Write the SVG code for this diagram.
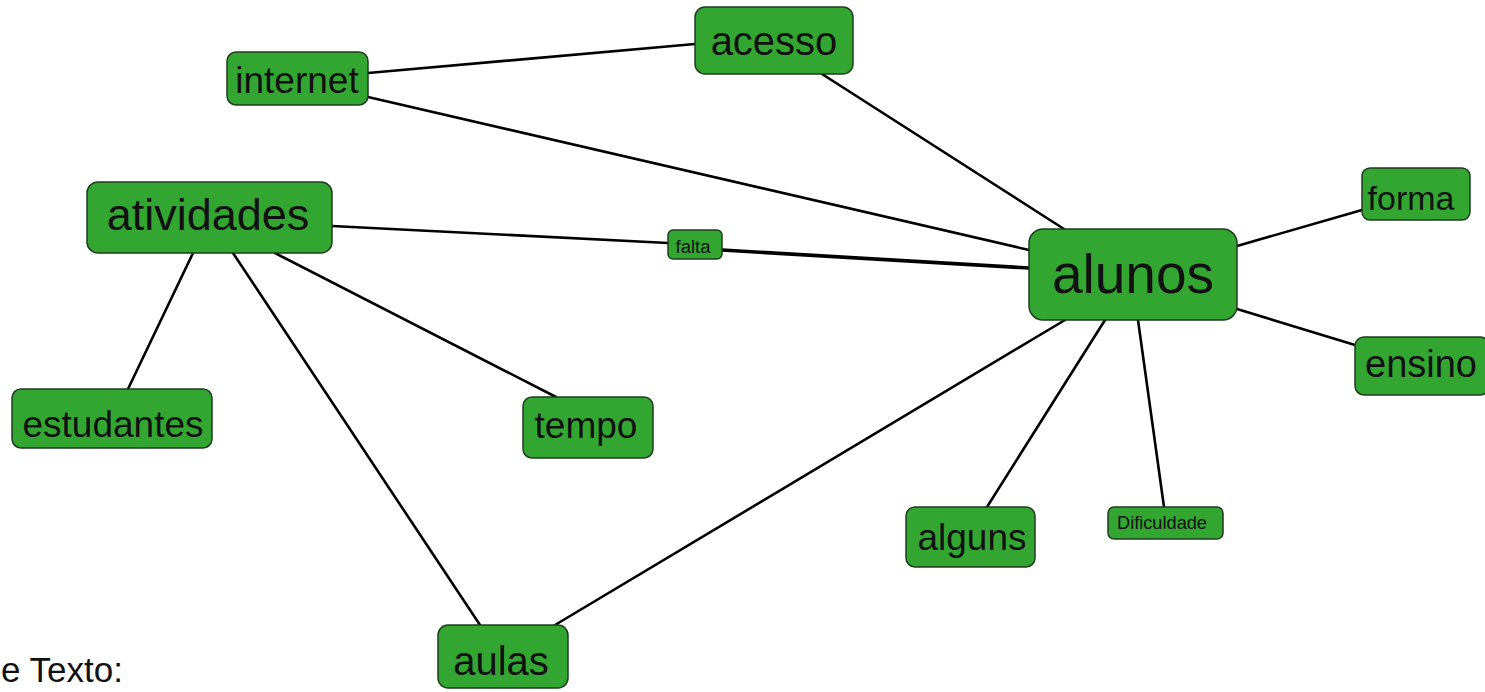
<svg xmlns="http://www.w3.org/2000/svg" width="1485" height="692" viewBox="0 0 1485 692">
<style>
.n rect{fill:#33a632;stroke:#1f3d1f;stroke-width:1.5}
.n text{font-family:"Liberation Sans",Arial,sans-serif;fill:#111;text-anchor:middle}
.e line{stroke:#000;stroke-width:2.6;stroke-linecap:round}
</style>
<rect width="1485" height="692" fill="#fff"/>
<g id="connectors" class="e">
<line x1="368" y1="73" x2="695" y2="44"/>
<line x1="368" y1="97" x2="1029" y2="250"/>
<line x1="822" y1="74" x2="1064" y2="229"/>
<line x1="332" y1="226" x2="668" y2="243"/>
<line x1="722" y1="250" x2="1029" y2="268" style="stroke-width:3.6"/>
<line x1="1237" y1="246" x2="1362" y2="210"/>
<line x1="1237" y1="309" x2="1355" y2="345"/>
<line x1="1065" y1="320" x2="555" y2="625"/>
<line x1="1105" y1="320" x2="987" y2="507"/>
<line x1="1138" y1="320" x2="1164" y2="507"/>
<line x1="193" y1="253" x2="128" y2="389"/>
<line x1="233" y1="253" x2="480" y2="625"/>
<line x1="275" y1="253" x2="556" y2="397"/>
</g>
<g id="internet" class="n"><rect x="227" y="52" width="141" height="53" rx="9"/><text x="297" y="93" font-size="37">internet</text></g>
<g id="acesso" class="n"><rect x="695" y="7" width="158" height="67" rx="10"/><text x="774" y="55" font-size="40">acesso</text></g>
<g id="atividades" class="n"><rect x="87" y="182" width="245" height="71" rx="11"/><text x="208" y="230" font-size="45">atividades</text></g>
<g id="falta" class="n"><rect x="668" y="230" width="54" height="29" rx="5"/><text x="693" y="253" font-size="18" textLength="35" lengthAdjust="spacingAndGlyphs">falta</text></g>
<g id="alunos" class="n"><rect x="1029" y="229" width="208" height="91" rx="14"/><text x="1133" y="293" font-size="55">alunos</text></g>
<g id="forma" class="n"><rect x="1362" y="168" width="108" height="52" rx="8"/><text x="1411" y="210" font-size="34">forma</text></g>
<g id="ensino" class="n"><rect x="1355" y="337" width="134" height="58" rx="9"/><text x="1421" y="377" font-size="38">ensino</text></g>
<g id="estudantes" class="n"><rect x="12" y="389" width="200" height="59" rx="9"/><text x="113" y="437" font-size="37">estudantes</text></g>
<g id="tempo" class="n"><rect x="523" y="397" width="130" height="61" rx="9"/><text x="586" y="438" font-size="37">tempo</text></g>
<g id="alguns" class="n"><rect x="906" y="507" width="129" height="60" rx="9"/><text x="972" y="550" font-size="37">alguns</text></g>
<g id="Dificuldade" class="n"><rect x="1108" y="507" width="115" height="32" rx="6"/><text x="1162" y="529" font-size="18" textLength="90" lengthAdjust="spacingAndGlyphs">Dificuldade</text></g>
<g id="aulas" class="n"><rect x="438" y="625" width="130" height="63" rx="10"/><text x="501" y="675" font-size="40">aulas</text></g>
<text x="1" y="682" font-family="'Liberation Sans',Arial,sans-serif" font-size="35" fill="#111">e Texto:</text>
</svg>
